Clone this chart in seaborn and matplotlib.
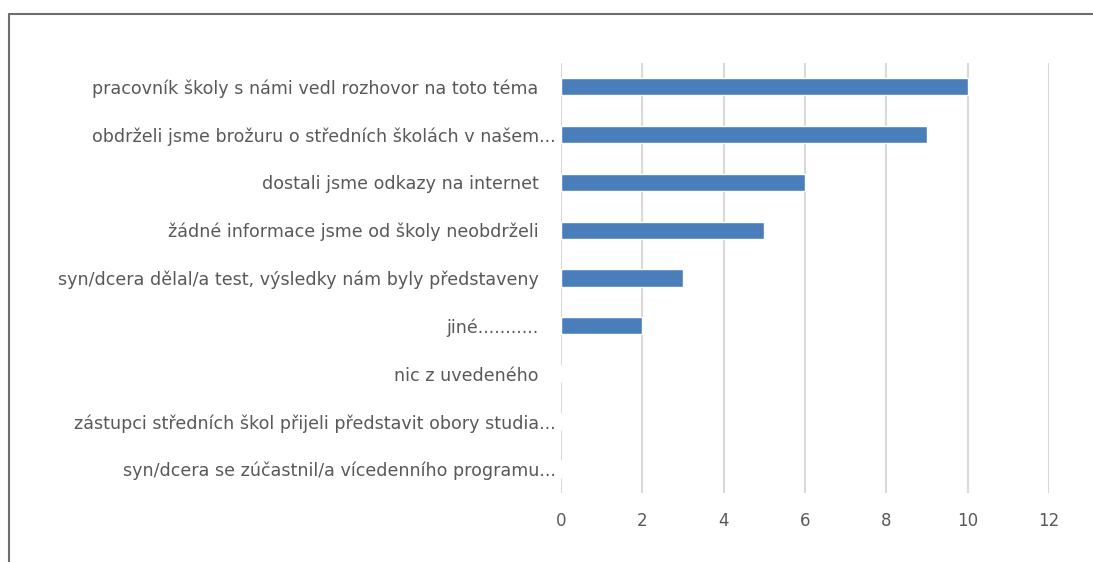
import matplotlib
matplotlib.use("Agg")
import matplotlib.pyplot as plt
import seaborn as sns
import pandas as pd
from matplotlib.lines import Line2D

categories = [
    "pracovník školy s námi vedl rozhovor na toto téma   ",
    "obdrželi jsme brožuru o středních školách v našem...",
    "dostali jsme odkazy na internet   ",
    "žádné informace jsme od školy neobdrželi   ",
    "syn/dcera dělal/a test, výsledky nám byly představeny   ",
    "jiné...........   ",
    "nic z uvedeného   ",
    "zástupci středních škol přijeli představit obory studia...",
    "syn/dcera se zúčastnil/a vícedenního programu...",
]
values = [10, 9, 6, 5, 3, 2, 0, 0, 0]
xticks = [0, 2, 4, 6, 8, 10, 12]

df = pd.DataFrame({"cat": categories, "val": values})

sns.set_style("white")
plt.rcParams["font.family"] = ["DejaVu Sans"]

fig = plt.figure(figsize=(10.93, 5.62), dpi=100)
ax = fig.add_axes([0.5133, 0.1228, 0.9597 - 0.5133, 0.8879 - 0.1228])

sns.barplot(data=df, x="val", y="cat", orient="h", color="#4A7EBB",
            saturation=1, width=0.36, ax=ax, zorder=3)

ax.set_xlim(0, 12)
ax.set_xticks(xticks)
ax.set_xticklabels([str(t) for t in xticks])
ax.set_xlabel("")
ax.set_ylabel("")
ax.grid(axis="x", color="#d9d9d9", linewidth=1.5, zorder=0)
ax.grid(axis="y", visible=False)
for s in ax.spines.values():
    s.set_visible(False)
ax.tick_params(axis="both", length=0, colors="#595959")
ax.tick_params(axis="y", pad=4, labelsize=12.6)
ax.tick_params(axis="x", pad=14, labelsize=12)
ax.set_axisbelow(True)

fig.add_artist(Line2D([9 / 1093, 1], [1 - 14 / 562, 1 - 14 / 562], color="#6e6e6e", linewidth=1.5))
fig.add_artist(Line2D([9 / 1093, 9 / 1093], [0, 1 - 14 / 562], color="#6e6e6e", linewidth=1.5))

fig.savefig("out.png", dpi=100)
